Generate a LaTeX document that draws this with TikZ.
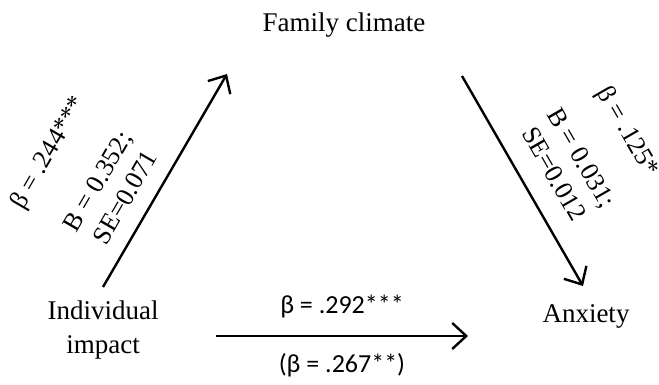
\documentclass[tikz,border=0pt]{standalone}
\usepackage{fontspec}
\setmainfont{Liberation Serif}
\newfontfamily\calfont{Carlito}
\usetikzlibrary{arrows.meta}

\tikzset{
  var/.style={font=\fontsize{27}{34}\selectfont, align=center},
  effect/.style={line width=2.4pt, -{Straight Barb[length=14pt,width=26pt,line width=2.4pt]}},
  coef/.style={font=\fontsize{26}{32}\selectfont, align=center, sloped},
  direct/.style={font=\calfont\fontsize{26}{32}\selectfont}
}

\begin{document}
\begin{tikzpicture}[x=1pt,y=1pt]
  \useasboundingbox (0,0) rectangle (659,385);

  \node[var] (fam) at (344,360) {Family climate};
  \node[var] (ind) at (103,55)  {Individual\\impact};
  \node[var] (anx) at (586,69)  {Anxiety};

  \draw[effect] ([shift={(0,43)}]ind.center) -- ([shift={(-117,-49)}]fam.center)
    node[coef, pos=0.36, yshift=42]  {B = 0.352;\\SE=0.071}
    node[coef, pos=0.36, yshift=114] {β = .244***};
  \draw[effect] ([shift={(118,-51)}]fam.center) -- ([shift={(-3,30)}]anx.center)
    node[coef, pos=0.54, yshift=47]  {B = 0.031;\\SE=0.012}
    node[coef, pos=0.54, yshift=115] {β = .125*};
  \draw[effect] ([shift={(113,-6)}]ind.center) -- ([shift={(-118,-20)}]anx.center)
    node[direct, midway, yshift=29]  {β = .292***}
    node[direct, midway, yshift=-29] {(β = .267**)};
\end{tikzpicture}
\end{document}
